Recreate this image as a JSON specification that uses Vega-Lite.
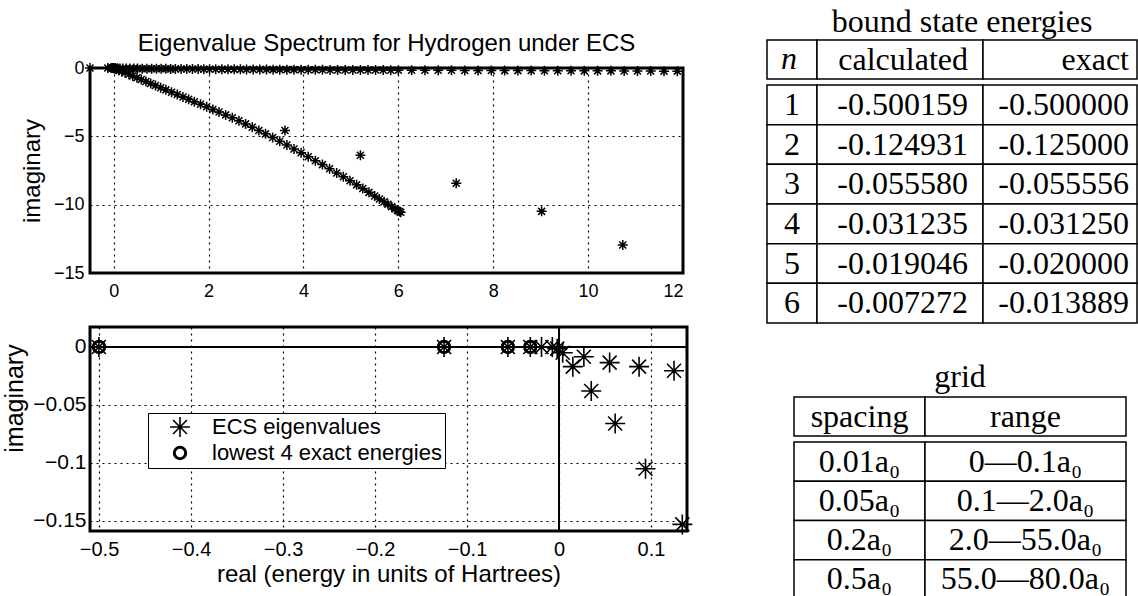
{
  "$schema": "https://vega.github.io/schema/vega-lite/v6.json",
  "background": "white",
  "padding": {"left": 1, "top": 6, "right": 0, "bottom": 0},
  "columns": 2,
  "spacing": {"row": 54, "column": 80},
  "bounds": "flush",
  "align": "each",
  "resolve": {"scale": {"x": "independent", "y": "independent", "shape": "independent", "size": "independent", "strokeWidth": "independent"}},
  "config": {
    "view": {"stroke": null},
    "axis": {"domain": false, "ticks": false, "grid": true, "gridColor": "black", "gridDash": [2, 4], "gridWidth": 1.2, "gridOpacity": 1, "labelColor": "black", "titleColor": "black", "labelFont": "Liberation Sans", "titleFont": "Liberation Sans", "titleFontWeight": "normal"},
    "legend": {"labelLimit": 500},
    "title": {"color": "black", "fontWeight": "normal", "anchor": "middle"}
  },
  "datasets": {
    "top": [
      {"re": -0.5, "im": 0}, {"re": -0.125, "im": 0}, {"re": -0.056, "im": 0}, {"re": -0.031, "im": 0}, {"re": -0.019, "im": 0}, {"re": -0.007, "im": 0},
      {"re": 0.003, "im": -0.003}, {"re": 0.01, "im": -0.01}, {"re": 0.02, "im": -0.01}, {"re": 0.04, "im": -0.02}, {"re": 0.08, "im": -0.02}, {"re": 0.13, "im": -0.03}, {"re": 0.19, "im": -0.03}, {"re": 0.26, "im": -0.03}, {"re": 0.34, "im": -0.04}, {"re": 0.42, "im": -0.04}, {"re": 0.5, "im": -0.04}, {"re": 0.6, "im": -0.05}, {"re": 0.7, "im": -0.05}, {"re": 0.8, "im": -0.05}, {"re": 0.9, "im": -0.06}, {"re": 1.0, "im": -0.06}, {"re": 1.1, "im": -0.06}, {"re": 1.2, "im": -0.07}, {"re": 1.3, "im": -0.07}, {"re": 1.42, "im": -0.07}, {"re": 1.54, "im": -0.08}, {"re": 1.66, "im": -0.08}, {"re": 1.78, "im": -0.08}, {"re": 1.9, "im": -0.09}, {"re": 2.02, "im": -0.09}, {"re": 2.15, "im": -0.09}, {"re": 2.28, "im": -0.1}, {"re": 2.41, "im": -0.1}, {"re": 2.54, "im": -0.1}, {"re": 2.67, "im": -0.1}, {"re": 2.8, "im": -0.11}, {"re": 2.94, "im": -0.11}, {"re": 3.08, "im": -0.11}, {"re": 3.22, "im": -0.11}, {"re": 3.36, "im": -0.12}, {"re": 3.5, "im": -0.12}, {"re": 3.65, "im": -0.12}, {"re": 3.8, "im": -0.12}, {"re": 3.95, "im": -0.13}, {"re": 4.1, "im": -0.13}, {"re": 4.25, "im": -0.13}, {"re": 4.4, "im": -0.13}, {"re": 4.56, "im": -0.14}, {"re": 4.72, "im": -0.14}, {"re": 4.88, "im": -0.14}, {"re": 5.04, "im": -0.14}, {"re": 5.2, "im": -0.15}, {"re": 5.36, "im": -0.15}, {"re": 5.52, "im": -0.15}, {"re": 5.68, "im": -0.15}, {"re": 5.84, "im": -0.16}, {"re": 6.0, "im": -0.16},
      {"re": 6.28, "im": -0.16}, {"re": 6.56, "im": -0.17}, {"re": 6.84, "im": -0.17}, {"re": 7.12, "im": -0.17}, {"re": 7.4, "im": -0.18}, {"re": 7.68, "im": -0.18}, {"re": 7.96, "im": -0.18}, {"re": 8.24, "im": -0.19}, {"re": 8.52, "im": -0.19}, {"re": 8.8, "im": -0.19}, {"re": 9.08, "im": -0.2}, {"re": 9.36, "im": -0.2}, {"re": 9.64, "im": -0.2}, {"re": 9.92, "im": -0.21}, {"re": 10.2, "im": -0.21}, {"re": 10.48, "im": -0.21}, {"re": 10.76, "im": -0.22}, {"re": 11.04, "im": -0.22}, {"re": 11.32, "im": -0.22}, {"re": 11.6, "im": -0.23}, {"re": 11.88, "im": -0.23},
      {"re": 0.02, "im": -0.03}, {"re": 0.06, "im": -0.09}, {"re": 0.11, "im": -0.16}, {"re": 0.17, "im": -0.25}, {"re": 0.24, "im": -0.35}, {"re": 0.32, "im": -0.46}, {"re": 0.4, "im": -0.58}, {"re": 0.49, "im": -0.71}, {"re": 0.58, "im": -0.84}, {"re": 0.68, "im": -0.99}, {"re": 0.78, "im": -1.13}, {"re": 0.88, "im": -1.28}, {"re": 0.99, "im": -1.44}, {"re": 1.1, "im": -1.6}, {"re": 1.22, "im": -1.77}, {"re": 1.34, "im": -1.94}, {"re": 1.46, "im": -2.12}, {"re": 1.58, "im": -2.29}, {"re": 1.7, "im": -2.47}, {"re": 1.83, "im": -2.65}, {"re": 1.96, "im": -2.84}, {"re": 2.09, "im": -3.03}, {"re": 2.22, "im": -3.22}, {"re": 2.36, "im": -3.43}, {"re": 2.5, "im": -3.64}, {"re": 2.64, "im": -3.86}, {"re": 2.78, "im": -4.09}, {"re": 2.92, "im": -4.33}, {"re": 3.06, "im": -4.57}, {"re": 3.2, "im": -4.82}, {"re": 3.35, "im": -5.09}, {"re": 3.5, "im": -5.36}, {"re": 3.65, "im": -5.64}, {"re": 3.8, "im": -5.92}, {"re": 3.95, "im": -6.2}, {"re": 4.1, "im": -6.49}, {"re": 4.25, "im": -6.78}, {"re": 4.4, "im": -7.07}, {"re": 4.55, "im": -7.37}, {"re": 4.7, "im": -7.68}, {"re": 4.84, "im": -7.96}, {"re": 4.98, "im": -8.25}, {"re": 5.12, "im": -8.55}, {"re": 5.25, "im": -8.82}, {"re": 5.38, "im": -9.1}, {"re": 5.5, "im": -9.36}, {"re": 5.6, "im": -9.58}, {"re": 5.7, "im": -9.79}, {"re": 5.78, "im": -9.97}, {"re": 5.86, "im": -10.15}, {"re": 5.93, "im": -10.31}, {"re": 5.98, "im": -10.42}, {"re": 6.02, "im": -10.5}, {"re": 6.05, "im": -10.56},
      {"re": 3.61, "im": -4.57}, {"re": 5.2, "im": -6.38}, {"re": 7.22, "im": -8.43}, {"re": 9.02, "im": -10.49}, {"re": 10.73, "im": -12.95}
    ],
    "bottom": [
      {"re": -0.500159, "im": 0, "series": "ECS eigenvalues"},
      {"re": -0.124931, "im": 0, "series": "ECS eigenvalues"},
      {"re": -0.05558, "im": 0, "series": "ECS eigenvalues"},
      {"re": -0.031235, "im": 0, "series": "ECS eigenvalues"},
      {"re": -0.019046, "im": 0, "series": "ECS eigenvalues"},
      {"re": -0.007272, "im": 0, "series": "ECS eigenvalues"},
      {"re": -0.002, "im": -0.0015, "series": "ECS eigenvalues"},
      {"re": 0.004, "im": -0.005, "series": "ECS eigenvalues"},
      {"re": 0.015, "im": -0.017, "series": "ECS eigenvalues"},
      {"re": 0.027, "im": -0.0085, "series": "ECS eigenvalues"},
      {"re": 0.035, "im": -0.038, "series": "ECS eigenvalues"},
      {"re": 0.055, "im": -0.0135, "series": "ECS eigenvalues"},
      {"re": 0.061, "im": -0.066, "series": "ECS eigenvalues"},
      {"re": 0.087, "im": -0.017, "series": "ECS eigenvalues"},
      {"re": 0.094, "im": -0.105, "series": "ECS eigenvalues"},
      {"re": 0.125, "im": -0.0205, "series": "ECS eigenvalues"},
      {"re": 0.134, "im": -0.153, "series": "ECS eigenvalues"},
      {"re": -0.5, "im": 0, "series": "lowest 4 exact energies"},
      {"re": -0.125, "im": 0, "series": "lowest 4 exact energies"},
      {"re": -0.055556, "im": 0, "series": "lowest 4 exact energies"},
      {"re": -0.03125, "im": 0, "series": "lowest 4 exact energies"}
    ],
    "t1": [
      {"col": "n", "text": "n", "c0": 0, "c1": 1, "r0": 0, "r1": 1},
      {"col": "calculated", "text": "calculated", "c0": 1, "c1": 2, "r0": 0, "r1": 1},
      {"col": "exact", "text": "exact", "c0": 2, "c1": 3, "r0": 0, "r1": 1},
      {"col": "n", "text": "1", "c0": 0, "c1": 1, "r0": 2, "r1": 3},
      {"col": "calculated", "text": "-0.500159", "c0": 1, "c1": 2, "r0": 2, "r1": 3},
      {"col": "exact", "text": "-0.500000", "c0": 2, "c1": 3, "r0": 2, "r1": 3},
      {"col": "n", "text": "2", "c0": 0, "c1": 1, "r0": 3, "r1": 4},
      {"col": "calculated", "text": "-0.124931", "c0": 1, "c1": 2, "r0": 3, "r1": 4},
      {"col": "exact", "text": "-0.125000", "c0": 2, "c1": 3, "r0": 3, "r1": 4},
      {"col": "n", "text": "3", "c0": 0, "c1": 1, "r0": 4, "r1": 5},
      {"col": "calculated", "text": "-0.055580", "c0": 1, "c1": 2, "r0": 4, "r1": 5},
      {"col": "exact", "text": "-0.055556", "c0": 2, "c1": 3, "r0": 4, "r1": 5},
      {"col": "n", "text": "4", "c0": 0, "c1": 1, "r0": 5, "r1": 6},
      {"col": "calculated", "text": "-0.031235", "c0": 1, "c1": 2, "r0": 5, "r1": 6},
      {"col": "exact", "text": "-0.031250", "c0": 2, "c1": 3, "r0": 5, "r1": 6},
      {"col": "n", "text": "5", "c0": 0, "c1": 1, "r0": 6, "r1": 7},
      {"col": "calculated", "text": "-0.019046", "c0": 1, "c1": 2, "r0": 6, "r1": 7},
      {"col": "exact", "text": "-0.020000", "c0": 2, "c1": 3, "r0": 6, "r1": 7},
      {"col": "n", "text": "6", "c0": 0, "c1": 1, "r0": 7, "r1": 8},
      {"col": "calculated", "text": "-0.007272", "c0": 1, "c1": 2, "r0": 7, "r1": 8},
      {"col": "exact", "text": "-0.013889", "c0": 2, "c1": 3, "r0": 7, "r1": 8}
    ],
    "t2": [
      {"col": "spacing", "text": "spacing", "c0": 0, "c1": 1, "r0": 0, "r1": 1},
      {"col": "range", "text": "range", "c0": 1, "c1": 2, "r0": 0, "r1": 1},
      {"col": "spacing", "text": "0.01a₀", "c0": 0, "c1": 1, "r0": 2, "r1": 3},
      {"col": "range", "text": "0—0.1a₀", "c0": 1, "c1": 2, "r0": 2, "r1": 3},
      {"col": "spacing", "text": "0.05a₀", "c0": 0, "c1": 1, "r0": 3, "r1": 4},
      {"col": "range", "text": "0.1—2.0a₀", "c0": 1, "c1": 2, "r0": 3, "r1": 4},
      {"col": "spacing", "text": "0.2a₀", "c0": 0, "c1": 1, "r0": 4, "r1": 5},
      {"col": "range", "text": "2.0—55.0a₀", "c0": 1, "c1": 2, "r0": 4, "r1": 5},
      {"col": "spacing", "text": "0.5a₀", "c0": 0, "c1": 1, "r0": 5, "r1": 6},
      {"col": "range", "text": "55.0—80.0a₀", "c0": 1, "c1": 2, "r0": 5, "r1": 6}
    ]
  },
  "concat": [
    {
      "width": 593,
      "height": 205,
      "view": {"stroke": "black", "strokeWidth": 3},
      "title": {"text": "Eigenvalue Spectrum for Hydrogen under ECS", "font": "Liberation Sans", "fontSize": 24, "baseline": "alphabetic", "offset": -16},
      "data": {"name": "top"},
      "mark": {"type": "point", "shape": "M-1,0L1,0M0,-1L0,1M-0.7,-0.7L0.7,0.7M-0.7,0.7L0.7,-0.7", "size": 100, "filled": false, "color": "black", "strokeWidth": 1.5, "opacity": 1},
      "encoding": {
        "x": {"field": "re", "type": "quantitative", "scale": {"domain": [-0.5, 12], "nice": false, "zero": false}, "axis": {"values": [0, 2, 4, 6, 8, 10, 12], "title": null, "labelFontSize": 18, "labelPadding": 9, "format": "~g"}},
        "y": {"field": "im", "type": "quantitative", "scale": {"domain": [-15, 0], "nice": false}, "axis": {"values": [-15, -10, -5, 0], "title": "imaginary", "titleFontSize": 24, "labelFontSize": 18, "labelPadding": 6, "titlePadding": 9, "format": "~g"}}
      }
    },
    {
      "width": 370,
      "height": 205,
      "data": {"name": "t1"},
      "layer": [
        {
          "mark": {"type": "rect", "fill": "white", "stroke": "black", "strokeWidth": 1.5},
          "encoding": {
            "x": {"field": "c0", "type": "quantitative", "scale": {"domain": [0, 1, 2, 3], "range": [0, 50, 216, 370], "nice": false, "zero": false}, "axis": null},
            "x2": {"field": "c1"},
            "y": {"field": "r0", "type": "quantitative", "scale": {"domain": [-1, 0, 1, 2, 8], "range": [-46, -28, 11, 17, 255], "nice": false, "zero": false}, "axis": null},
            "y2": {"field": "r1"},
            "strokeDash": {"condition": [{"test": "datum.col === 'exact' && datum.r0 === 0", "value": [154, 39, 193]}, {"test": "datum.col === 'exact'", "value": [154, 39.667, 193.667]}], "value": [1, 0]}
          }
        },
        {
          "data": {"values": [{"title": "bound state energies"}]},
          "mark": {"type": "text", "font": "Liberation Serif", "fontSize": 32, "align": "center", "baseline": "middle", "dx": 145, "color": "black"},
          "encoding": {"x": {"datum": 1, "type": "quantitative"}, "y": {"datum": -1, "type": "quantitative"}, "text": {"field": "title"}}
        },
        {
          "transform": [{"filter": "datum.col === 'n' && datum.r0 === 0"}],
          "mark": {"type": "text", "font": "Liberation Serif", "fontSize": 32, "fontStyle": "italic", "align": "center", "baseline": "middle", "dx": 22, "dy": 19, "color": "black"},
          "encoding": {"x": {"field": "c0", "type": "quantitative"}, "y": {"field": "r0", "type": "quantitative"}, "text": {"field": "text"}}
        },
        {
          "transform": [{"filter": "datum.col === 'n' && datum.r0 > 0"}],
          "mark": {"type": "text", "font": "Liberation Serif", "fontSize": 32, "align": "center", "baseline": "middle", "dx": 25, "dy": 20, "color": "black"},
          "encoding": {"x": {"field": "c0", "type": "quantitative"}, "y": {"field": "r0", "type": "quantitative"}, "text": {"field": "text"}}
        },
        {
          "transform": [{"filter": "datum.col === 'calculated'"}],
          "mark": {"type": "text", "font": "Liberation Serif", "fontSize": 32, "align": "right", "baseline": "middle", "dx": -15, "dy": 20, "color": "black"},
          "encoding": {"x": {"field": "c1", "type": "quantitative"}, "y": {"field": "r0", "type": "quantitative"}, "text": {"field": "text"}}
        },
        {
          "transform": [{"filter": "datum.col === 'exact'"}],
          "mark": {"type": "text", "font": "Liberation Serif", "fontSize": 32, "align": "right", "baseline": "middle", "dx": -8, "dy": 20, "color": "black"},
          "encoding": {"x": {"field": "c1", "type": "quantitative"}, "y": {"field": "r0", "type": "quantitative"}, "text": {"field": "text"}}
        }
      ]
    },
    {
      "width": 597,
      "height": 204,
      "view": {"stroke": "black", "strokeWidth": 3},
      "data": {"name": "bottom"},
      "layer": [
        {"mark": {"type": "rule", "color": "black", "strokeWidth": 1.5}, "encoding": {"y": {"datum": 0, "type": "quantitative"}}},
        {"mark": {"type": "rule", "color": "black", "strokeWidth": 1.5}, "encoding": {"x": {"datum": 0, "type": "quantitative"}}},
        {
          "mark": {"type": "point", "filled": false, "color": "black", "opacity": 1},
          "encoding": {
            "x": {"field": "re", "type": "quantitative", "scale": {"domain": [-0.5098, 0.1391], "nice": false, "zero": false}, "axis": {"values": [-0.5, -0.4, -0.3, -0.2, -0.1, 0, 0.1], "title": "real (energy in units of Hartrees)", "titleFontSize": 24, "labelFontSize": 20, "labelPadding": 8, "titlePadding": 3, "format": "~g"}},
            "y": {"field": "im", "type": "quantitative", "scale": {"domain": [-0.1587, 0.0172], "nice": false, "zero": false}, "axis": {"values": [-0.15, -0.1, -0.05, 0], "title": "imaginary", "titleFontSize": 25, "titleY": 71, "labelFontSize": 21, "labelPadding": 4, "titlePadding": 5, "format": "~g"}},
            "shape": {"field": "series", "type": "ordinal", "scale": {"domain": ["ECS eigenvalues", "lowest 4 exact energies"], "range": ["M-1,0L1,0M0,-1L0,1M-0.7,-0.7L0.7,0.7M-0.7,0.7L0.7,-0.7", "circle"]}, "legend": {"title": null, "orient": "none", "legendX": 58, "legendY": 86, "fillColor": "white", "strokeColor": "black", "padding": 3, "labelFontSize": 22, "labelFont": "Liberation Sans", "labelColor": "black", "labelLimit": 500, "symbolOffset": 18, "labelOffset": 21, "rowPadding": 0}},
            "size": {"field": "series", "type": "ordinal", "scale": {"domain": ["ECS eigenvalues", "lowest 4 exact energies"], "range": [400, 130]}, "legend": {"title": null, "orient": "none", "legendX": 58, "legendY": 86, "fillColor": "white", "strokeColor": "black", "padding": 3, "labelFontSize": 22, "labelFont": "Liberation Sans", "labelColor": "black", "labelLimit": 500, "symbolOffset": 18, "labelOffset": 21, "rowPadding": 0}},
            "strokeWidth": {"field": "series", "type": "ordinal", "scale": {"domain": ["ECS eigenvalues", "lowest 4 exact energies"], "range": [1.6, 3]}, "legend": {"title": null, "orient": "none", "legendX": 58, "legendY": 86, "fillColor": "white", "strokeColor": "black", "padding": 3, "labelFontSize": 22, "labelFont": "Liberation Sans", "labelColor": "black", "labelLimit": 500, "symbolOffset": 18, "labelOffset": 21, "rowPadding": 0}}
          }
        }
      ]
    },
    {
      "width": 370,
      "height": 269,
      "data": {"name": "t2"},
      "layer": [
        {
          "mark": {"type": "rect", "fill": "white", "stroke": "black", "strokeWidth": 1.5, "clip": true},
          "encoding": {
            "x": {"field": "c0", "type": "quantitative", "scale": {"domain": [0, 1, 2], "range": [27, 158, 359], "nice": false, "zero": false}, "axis": null},
            "x2": {"field": "c1"},
            "y": {"field": "r0", "type": "quantitative", "scale": {"domain": [-1, 0, 1, 2, 6], "range": [50, 70, 109, 115, 272], "nice": false, "zero": false}, "axis": null},
            "y2": {"field": "r1"}
          }
        },
        {
          "data": {"values": [{"title": "grid"}]},
          "mark": {"type": "text", "font": "Liberation Serif", "fontSize": 32, "align": "center", "baseline": "middle", "dx": 35, "color": "black"},
          "encoding": {"x": {"datum": 1, "type": "quantitative"}, "y": {"datum": -1, "type": "quantitative"}, "text": {"field": "title"}}
        },
        {
          "transform": [{"filter": "datum.col === 'spacing'"}],
          "mark": {"type": "text", "font": "Liberation Serif", "fontSize": 32, "align": "center", "baseline": "middle", "dx": 65.5, "dy": 19.5, "color": "black"},
          "encoding": {"x": {"field": "c0", "type": "quantitative"}, "y": {"field": "r0", "type": "quantitative"}, "text": {"field": "text"}}
        },
        {
          "transform": [{"filter": "datum.col === 'range'"}],
          "mark": {"type": "text", "font": "Liberation Serif", "fontSize": 32, "align": "center", "baseline": "middle", "dx": 100.5, "dy": 19.5, "color": "black"},
          "encoding": {"x": {"field": "c0", "type": "quantitative"}, "y": {"field": "r0", "type": "quantitative"}, "text": {"field": "text"}}
        }
      ]
    }
  ]
}
